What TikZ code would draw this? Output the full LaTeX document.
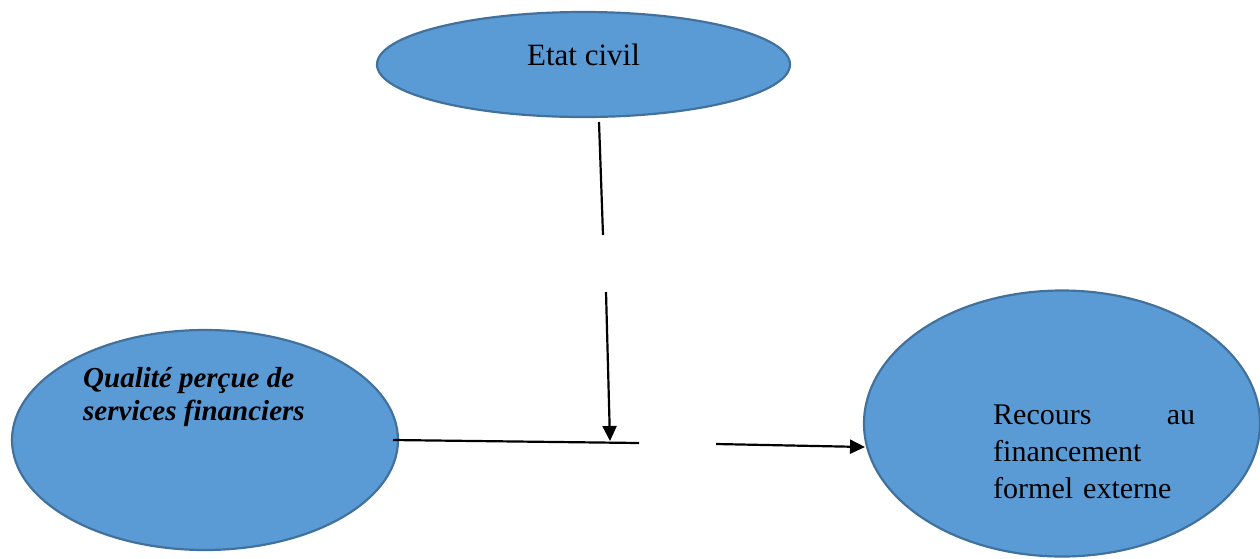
\documentclass[tikz,border=0pt]{standalone}
\usepackage{fontspec}
\setmainfont{Liberation Serif}
\usetikzlibrary{shapes.geometric,arrows.meta}
\definecolor{ellfill}{HTML}{5B9BD5}
\definecolor{elledge}{HTML}{41719C}
\tikzset{
  bubble/.style={ellipse, draw=elledge, fill=ellfill, line width=2.2pt, inner sep=0pt},
  label30/.style={inner sep=0pt, font=\fontsize{30}{33}\selectfont},
  conn/.style={line width=2.2pt, black},
  arr/.style={conn, -{Triangle[length=15pt,width=14pt]}}
}
\begin{document}
\begin{tikzpicture}[x=1pt,y=-1pt]
\useasboundingbox (0,0) rectangle (1260,558);
\clip (0,0) rectangle (1260,558);
% ellipses
\node[bubble, minimum width=413pt, minimum height=105pt] (etat) at (583.5,64.5) {};
\node[bubble, minimum width=386pt, minimum height=220pt] (qual) at (205,440) {};
\node[bubble, minimum width=396pt, minimum height=266pt] (rec) at (1062,423.5) {};
% texts
\node[label30, font=\fontsize{31}{33}\selectfont] (etatT) at (583.5,55) {Etat civil};
\node[label30, anchor=west, align=left, font=\fontsize{29}{33}\selectfont\bfseries\itshape] (qualT) at (83,397) {Qualité perçue de\\services financiers};
\node[label30, anchor=west, text width=202pt, align=left, font=\fontsize{30}{37}\selectfont] (recT) at (993,452) {Recours\hfill au\\financement\\formel externe};
% connector points
\coordinate (v1a) at (599,122);
\coordinate (v1b) at (603,235);
\coordinate (v2a) at (606,292);
\coordinate (v2b) at (610,441);
\coordinate (h1a) at (393,440);
\coordinate (h1b) at (639,443);
\coordinate (h2a) at (716,444);
\coordinate (h2b) at (865,447);
\draw[conn] (v1a) -- (v1b);
\draw[arr] (v2a) -- (v2b);
\draw[conn] (h1a) -- (h1b);
\draw[arr] (h2a) -- (h2b);
\end{tikzpicture}
\end{document}
